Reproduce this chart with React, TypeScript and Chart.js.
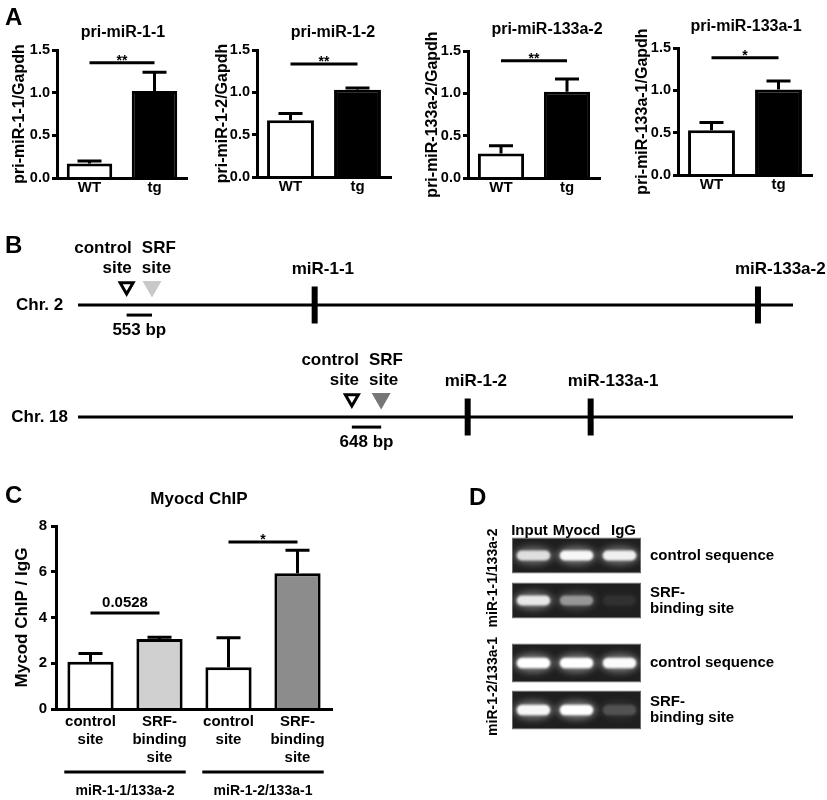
import React, { useEffect, useRef } from 'react';
import { Chart, registerables } from 'chart.js';

Chart.register(...registerables);

const FONT = '"Liberation Sans", Arial, Helvetica, sans-serif';
Chart.defaults.font.family = FONT;
Chart.defaults.font.weight = 'bold' as any;
Chart.defaults.color = '#000';

// ---------------- Panel A data ----------------
const genotypes = ['WT', 'tg'];
const titlesA = ['pri-miR-1-1', 'pri-miR-1-2', 'pri-miR-133a-2', 'pri-miR-133a-1'];
const yTitlesA = ['pri-miR-1-1/Gapdh', 'pri-miR-1-2/Gapdh', 'pri-miR-133a-2/Gapdh', 'pri-miR-133a-1/Gapdh'];
const meanA1 = [0.17, 1.02];
const semA1 = [0.03, 0.22];
const meanA2 = [0.67, 1.03];
const semA2 = [0.08, 0.02];
const meanA3 = [0.29, 1.02];
const semA3 = [0.09, 0.15];
const meanA4 = [0.53, 1.01];
const semA4 = [0.09, 0.1];
const starsA = ['**', '**', '**', '*'];
const starLevelA = [1.35, 1.335, 1.385, 1.385];
const yTicksA = [0, 0.5, 1.0, 1.5];

// ---------------- Panel B data ----------------
const chromosomes = ['Chr. 2', 'Chr. 18'];
const chrExtent = [0, 100];
const controlPos = [6.8, 38.3];
const srfPos = [10.35, 42.4];
const ampliconSize = ['553 bp', '648 bp'];
const siteLabelsLeft = ['control', 'site'];
const siteLabelsRight = ['SRF', 'site'];
const mirNames = [['miR-1-1', 'miR-133a-2'], ['miR-1-2', 'miR-133a-1']];
const mirPos = [[33.1, 95.1], [54.5, 71.7]];

// ---------------- Panel C data ----------------
const chipSites = [['control', 'site'], ['SRF-', 'binding', 'site'], ['control', 'site'], ['SRF-', 'binding', 'site']];
const chipMean = [2.07, 3.06, 1.83, 5.93];
const chipSem = [0.36, 0.08, 1.28, 1.01];
const chipLoci = ['miR-1-1/133a-2', 'miR-1-2/133a-1'];
const chipTicks = [0, 2, 4, 6, 8];
const chipPLabels = ['0.0528', '*'];
const chipPLevels = [4.2, 7.3];

// ---------------- Panel D data ----------------
const lanes = ['Input', 'Myocd', 'IgG'];
const gelRows = [['control sequence'], ['SRF-', 'binding site']];
const gelLoci = ['miR-1-1/133a-2', 'miR-1-2/133a-1'];
const bandsGel1 = [[0.8, 0.95, 0.9], [0.85, 0.45, 0.06]];
const bandsGel2 = [[1.0, 1.0, 0.97], [0.95, 1.0, 0.18]];

// ---------------- plugins ----------------
const errorBars = (sems: number[], capW = 24) => ({
  id: 'errorBars',
  afterDatasetsDraw(chart: any) {
    const meta = chart.getDatasetMeta(0);
    const ys = chart.scales.y;
    const vals = chart.data.datasets[0].data as number[];
    const ctx = chart.ctx;
    ctx.save();
    ctx.strokeStyle = '#000';
    ctx.lineWidth = 3;
    meta.data.forEach((el: any, i: number) => {
      const yb = ys.getPixelForValue(vals[i]);
      const yt = ys.getPixelForValue(vals[i] + sems[i]);
      ctx.beginPath();
      ctx.moveTo(el.x, yb);
      ctx.lineTo(el.x, yt);
      ctx.moveTo(el.x - capW / 2, yt);
      ctx.lineTo(el.x + capW / 2, yt);
      ctx.stroke();
    });
    ctx.restore();
  },
});

type Sig = { from: number; to: number; level: number; label: string; size: number; lift: number };
const sigBars = (items: Sig[]) => ({
  id: 'sigBars',
  afterDatasetsDraw(chart: any) {
    const xs = chart.scales.x;
    const ys = chart.scales.y;
    const ctx = chart.ctx;
    ctx.save();
    ctx.strokeStyle = '#000';
    ctx.fillStyle = '#000';
    ctx.lineWidth = 3;
    items.forEach((s) => {
      const x1 = xs.getPixelForValue(s.from);
      const x2 = xs.getPixelForValue(s.to);
      const y = ys.getPixelForValue(s.level);
      ctx.beginPath();
      ctx.moveTo(x1, y);
      ctx.lineTo(x2, y);
      ctx.stroke();
      ctx.font = `bold ${s.size}px ${FONT}`;
      ctx.textAlign = 'center';
      ctx.textBaseline = 'alphabetic';
      ctx.fillText(s.label, (x1 + x2) / 2, y + s.lift);
    });
    ctx.restore();
  },
});

// title centred over the plot area, nudged by dx
const plotTitle = (text: string, size: number, dx: number, y: number) => ({
  id: 'plotTitle',
  afterDraw(chart: any) {
    const ctx = chart.ctx;
    const ca = chart.chartArea;
    ctx.save();
    ctx.fillStyle = '#000';
    ctx.font = `bold ${size}px ${FONT}`;
    ctx.textAlign = 'center';
    ctx.textBaseline = 'middle';
    ctx.fillText(text, (ca.left + ca.right) / 2 + dx, y);
    ctx.restore();
  },
});

const groupAxis = (groups: string[], per: number) => ({
  id: 'groupAxis',
  afterDraw(chart: any) {
    const xs = chart.scales.x;
    const ctx = chart.ctx;
    const b = chart.chartArea.bottom;
    const step = xs.getPixelForValue(1) - xs.getPixelForValue(0);
    ctx.save();
    ctx.strokeStyle = '#000';
    ctx.fillStyle = '#000';
    ctx.lineWidth = 3;
    ctx.font = `bold 14px ${FONT}`;
    ctx.textAlign = 'center';
    ctx.textBaseline = 'alphabetic';
    groups.forEach((g, gi) => {
      const x1 = xs.getPixelForValue(gi * per) - step * 0.38;
      const x2 = xs.getPixelForValue(gi * per + per - 1) + step * 0.38;
      ctx.beginPath();
      ctx.moveTo(x1, b + 63);
      ctx.lineTo(x2, b + 63);
      ctx.stroke();
      ctx.fillText(g, (x1 + x2) / 2, b + 86);
    });
    ctx.restore();
  },
});

const geneLabels = {
  id: 'geneLabels',
  afterDraw(chart: any) {
    const xs = chart.scales.x;
    const ys = chart.scales.y;
    const ctx = chart.ctx;
    ctx.save();
    ctx.fillStyle = '#000';
    ctx.font = `bold 17px ${FONT}`;
    ctx.textBaseline = 'alphabetic';
    chromosomes.forEach((_, i) => {
      const yRow = ys.getPixelForValue(i + 1);
      const xc = xs.getPixelForValue(controlPos[i]);
      const xr = xs.getPixelForValue(srfPos[i]);
      const mid = (xc + xr) / 2;
      ctx.textAlign = 'right';
      ctx.fillText(siteLabelsLeft[0], mid - 7.5, yRow - 52);
      ctx.fillText(siteLabelsLeft[1], mid - 7.5, yRow - 32);
      ctx.textAlign = 'left';
      ctx.fillText(siteLabelsRight[0], mid + 2.5, yRow - 52);
      ctx.fillText(siteLabelsRight[1], mid + 2.5, yRow - 32);
      ctx.textAlign = 'center';
      ctx.fillText(ampliconSize[i], mid, yRow + 29.5);
      ctx.textAlign = 'left';
      mirNames[i].forEach((n, j) => {
        ctx.fillText(n, xs.getPixelForValue(mirPos[i][j]) - 23, yRow - 31);
      });
    });
    ctx.restore();
  },
};

const gelBands = (bands: number[][]) => ({
  id: 'gelBands',
  afterDatasetsDraw(chart: any) {
    const xs = chart.scales.x;
    const ys = chart.scales.y;
    const ctx = chart.ctx;
    const laneW = xs.getPixelForValue(1) - xs.getPixelForValue(0);
    const rowH = ys.getPixelForValue(1) - ys.getPixelForValue(0);
    const bars = chart.getDatasetMeta(0).data;
    bands.forEach((row, r) => {
      const bar = bars[r] as any;
      const stripTop = bar.y - bar.height / 2;
      ctx.save();
      ctx.beginPath();
      ctx.rect(bar.base, stripTop, bar.x - bar.base, bar.height);
      ctx.clip();
      row.forEach((I, l) => {
        const x = xs.getPixelForValue(l);
        const y = ys.getPixelForValue(r);
        const w = laneW * 0.78;
        const h = rowH * 0.22;
        (ctx as any).filter = 'blur(3px)';
        ctx.fillStyle = `rgba(210,210,210,${I * 0.45})`;
        ctx.beginPath();
        ctx.ellipse(x, y, w * 0.6, h * 0.95, 0, 0, Math.PI * 2);
        ctx.fill();
        (ctx as any).filter = 'blur(1.2px)';
        ctx.fillStyle = `rgba(255,255,255,${I})`;
        ctx.beginPath();
        (ctx as any).roundRect(x - w / 2, y - h / 2, w, h, h / 2);
        ctx.fill();
      });
      ctx.restore();
    });
  },
});

// lane names written just above the first gel strip
const laneLabels = (show: boolean) => ({
  id: 'laneLabels',
  afterDraw(chart: any) {
    if (!show) return;
    const xs = chart.scales.x;
    const ctx = chart.ctx;
    const top = chart.chartArea.top;
    ctx.save();
    ctx.fillStyle = '#000';
    ctx.font = `bold 15px ${FONT}`;
    ctx.textAlign = 'center';
    ctx.textBaseline = 'alphabetic';
    lanes.forEach((n, l) => {
      ctx.fillText(n, xs.getPixelForValue(l) + (l - 1) * 4, top + 1.5);
    });
    ctx.restore();
  },
});

// ---------------- configs ----------------
type AGeo = { left: number; axisX: number; plotRight: number; areaTop: number; areaBottom: number; titleX: number; titleY: number; yTitleX: number };
const A_GEO: AGeo[] = [
  { left: 0, axisX: 57, plotRight: 187, areaTop: 50, areaBottom: 178, titleX: 123, titleY: 33, yTitleX: 20 },
  { left: 205, axisX: 257, plotRight: 391, areaTop: 50, areaBottom: 177, titleX: 333, titleY: 33, yTitleX: 223 },
  { left: 415, axisX: 468, plotRight: 600, areaTop: 51, areaBottom: 178, titleX: 547, titleY: 30, yTitleX: 433 },
  { left: 625, axisX: 678, plotRight: 812, areaTop: 48, areaBottom: 175, titleX: 746, titleY: 27, yTitleX: 643 },
];
const A_MEANS = [meanA1, meanA2, meanA3, meanA4];
const A_SEMS = [semA1, semA2, semA3, semA4];
const aWidth = (g: AGeo) => Math.max(g.plotRight + 5, g.titleX + 66) - g.left;
const aHeight = (g: AGeo) => g.areaBottom + 26;

function aConfig(i: number): any {
  const g = A_GEO[i];
  const W = aWidth(g);
  const H = aHeight(g);
  return {
    type: 'bar',
    data: {
      labels: genotypes,
      datasets: [
        {
          data: A_MEANS[i],
          backgroundColor: ['#ffffff', '#000000'],
          borderColor: '#000',
          borderWidth: 3,
          barPercentage: 0.7,
          categoryPercentage: 1,
        },
      ],
    },
    options: {
      responsive: false,
      animation: false,
      layout: { padding: { left: 0, top: g.areaTop, right: g.left + W - g.plotRight, bottom: 0 } },
      plugins: { legend: { display: false }, tooltip: { enabled: false }, title: { display: false } },
      scales: {
        x: {
          grid: { display: false, drawTicks: false },
          border: { display: true, color: '#000', width: 3, z: 1 },
          ticks: { color: '#000', font: { size: 15, weight: 'bold' }, padding: 1 },
          afterFit: (s: any) => {
            s.height = H - g.areaBottom;
          },
        },
        y: {
          min: 0,
          max: 1.5,
          afterBuildTicks: (s: any) => {
            s.ticks = yTicksA.map((v) => ({ value: v }));
          },
          ticks: {
            color: '#000',
            font: { size: 14.5, weight: 'bold' },
            padding: 2,
            callback: (v: any) => Number(v).toFixed(1),
          },
          grid: { display: true, drawOnChartArea: false, drawTicks: true, tickLength: 5, tickWidth: 3, tickColor: '#000' },
          border: { display: true, color: '#000', width: 3 },
          title: {
            display: true,
            text: yTitlesA[i],
            color: '#000',
            font: { size: 16, weight: 'bold' },
            padding: { top: g.yTitleX - g.left - 9.6, bottom: 0 },
          },
          afterFit: (s: any) => {
            s.width = g.axisX - g.left;
          },
        },
      },
    },
    plugins: [
      errorBars(A_SEMS[i]),
      sigBars([{ from: 0, to: 1, level: starLevelA[i], label: starsA[i], size: 14, lift: 2 }]),
      plotTitle(titlesA[i], 16, g.titleX - (g.axisX + g.plotRight) / 2, g.titleY),
    ],
  };
}

const C_GEO = { left: 0, top: 480, W: 345, H: 320, axisX: 56, plotRight: 332, areaTop: 526, areaBottom: 709, titleX: 199, titleY: 499, yTitleX: 22 };

function cConfig(): any {
  const g = C_GEO;
  return {
    type: 'bar',
    data: {
      labels: chipSites,
      datasets: [
        {
          data: chipMean,
          backgroundColor: ['#ffffff', '#d0d0d0', '#ffffff', '#8c8c8c'],
          borderColor: '#000',
          borderWidth: 3,
          barPercentage: 0.67,
          categoryPercentage: 1,
        },
      ],
    },
    options: {
      responsive: false,
      animation: false,
      layout: { padding: { left: 0, top: g.areaTop - g.top, right: g.left + g.W - g.plotRight, bottom: 0 } },
      plugins: { legend: { display: false }, tooltip: { enabled: false }, title: { display: false } },
      scales: {
        x: {
          grid: { display: false, drawTicks: false },
          border: { display: true, color: '#000', width: 3, z: 1 },
          ticks: { color: '#000', font: { size: 15, weight: 'bold' }, padding: 4 },
          afterFit: (s: any) => {
            s.height = g.top + g.H - g.areaBottom;
          },
        },
        y: {
          min: 0,
          max: 8,
          afterBuildTicks: (s: any) => {
            s.ticks = chipTicks.map((v) => ({ value: v }));
          },
          ticks: { color: '#000', font: { size: 15, weight: 'bold' }, padding: 4 },
          grid: { display: true, drawOnChartArea: false, drawTicks: true, tickLength: 5, tickWidth: 3, tickColor: '#000' },
          border: { display: true, color: '#000', width: 3 },
          title: {
            display: true,
            text: 'Mycod ChIP / IgG',
            color: '#000',
            font: { size: 17, weight: 'bold' },
            padding: { top: g.yTitleX - g.left - 10.2, bottom: 0 },
          },
          afterFit: (s: any) => {
            s.width = g.axisX - g.left;
          },
        },
      },
    },
    plugins: [
      errorBars(chipSem),
      sigBars([
        { from: 0, to: 1, level: chipPLevels[0], label: chipPLabels[0], size: 15, lift: -6 },
        { from: 2, to: 3, level: chipPLevels[1], label: chipPLabels[1], size: 14, lift: 2 },
      ]),
      groupAxis(chipLoci, 2),
      plotTitle('Myocd ChIP', 17, g.titleX - (g.axisX + g.plotRight) / 2, g.titleY - g.top),
    ],
  };
}

const B_GEO = { left: 0, top: 200, W: 827, H: 300, padTop: 49, padBottom: 27, yAxisW: 78, padRight: 34 };
const SITE_OFFSET = 0.165;
const BAR_OFFSET = 0.09;

function bConfig(): any {
  const g = B_GEO;
  const srfColors = ['#c8c8c8', '#767676'];
  const datasets: any[] = [];
  chromosomes.forEach((_, i) => {
    const row = i + 1;
    datasets.push({
      data: chrExtent.map((x) => ({ x, y: row })),
      showLine: true,
      borderColor: '#000',
      borderWidth: 3,
      pointRadius: 0,
    });
    datasets.push({
      data: [controlPos[i], srfPos[i]].map((x) => ({ x, y: row + BAR_OFFSET })),
      showLine: true,
      borderColor: '#000',
      borderWidth: 3,
      pointRadius: 0,
    });
    datasets.push({
      data: mirPos[i].map((x) => ({ x, y: row })),
      pointStyle: 'line',
      pointRotation: 90,
      pointRadius: 18.5,
      pointBorderWidth: 6,
      pointBorderColor: '#000',
      pointBackgroundColor: '#000',
    });
    datasets.push({
      data: [{ x: controlPos[i], y: row - SITE_OFFSET }],
      pointStyle: 'triangle',
      pointRotation: 180,
      pointRadius: 7.5,
      pointBackgroundColor: '#fff',
      pointBorderColor: '#000',
      pointBorderWidth: 3,
    });
    datasets.push({
      data: [{ x: srfPos[i], y: row - SITE_OFFSET }],
      pointStyle: 'triangle',
      pointRotation: 180,
      pointRadius: 11,
      pointBackgroundColor: srfColors[i],
      pointBorderColor: srfColors[i],
      pointBorderWidth: 0,
    });
  });
  return {
    type: 'scatter',
    data: { datasets },
    options: {
      responsive: false,
      animation: false,
      layout: { padding: { left: 0, top: g.padTop, right: g.padRight, bottom: g.padBottom } },
      plugins: { legend: { display: false }, tooltip: { enabled: false } },
      scales: {
        x: { type: 'linear', min: chrExtent[0], max: chrExtent[1], display: false },
        y: {
          type: 'linear',
          reverse: true,
          min: 0.5,
          max: 2.5,
          afterBuildTicks: (s: any) => {
            s.ticks = chromosomes.map((_, i) => ({ value: i + 1 }));
          },
          ticks: {
            color: '#000',
            font: { size: 17, weight: 'bold' },
            padding: 10,
            crossAlign: 'center',
            callback: (v: any) => chromosomes[Math.round(Number(v)) - 1] ?? '',
          },
          grid: { display: false, drawTicks: false },
          border: { display: false },
          afterFit: (s: any) => {
            s.width = g.yAxisW;
          },
        },
      },
    },
    plugins: [geneLabels],
  };
}

type DGeo = { top: number; H: number; padTop: number; padBottom: number; bp: number };
const D_GEO: DGeo[] = [
  { top: 490, H: 165, padTop: 43, padBottom: 32, bp: 0.8 },
  { top: 605, H: 160, padTop: 34.5, padBottom: 31.5, bp: 0.83 },
];
const D_LEFT = 460;
const D_W = 367;

function dConfig(i: number): any {
  const g = D_GEO[i];
  const bands = i === 0 ? bandsGel1 : bandsGel2;
  return {
    type: 'bar',
    data: {
      labels: gelRows,
      datasets: [
        {
          data: gelRows.map(() => [-0.5, lanes.length - 0.5]),
          backgroundColor: '#1f1f1f',
          borderColor: '#6a6a6a',
          borderWidth: 1,
          borderSkipped: false,
          barPercentage: g.bp,
          categoryPercentage: 1,
        },
      ],
    },
    options: {
      indexAxis: 'y',
      responsive: false,
      animation: false,
      layout: { padding: { left: 0, right: 0, top: g.padTop, bottom: g.padBottom } },
      plugins: { legend: { display: false }, tooltip: { enabled: false } },
      scales: {
        x: {
          type: 'linear',
          display: false,
          min: -0.5,
          max: lanes.length - 0.5,
        },
        y: {
          type: 'category',
          position: 'right',
          ticks: { color: '#000', font: { size: 15, weight: 'bold', lineHeight: 1.07 }, padding: 9 },
          grid: { display: false, drawTicks: false },
          border: { display: false },
          afterFit: (s: any) => {
            s.width = 827 - 641;
          },
        },
        yl: {
          type: 'category',
          position: 'left',
          ticks: { display: false },
          grid: { display: false, drawTicks: false },
          border: { display: false },
          title: {
            display: true,
            text: gelLoci[i],
            color: '#000',
            font: { size: 14, weight: 'bold' },
            padding: { top: 33 - 8.4, bottom: 0 },
          },
          afterFit: (s: any) => {
            s.width = 512 - D_LEFT;
          },
        },
      },
    },
    plugins: [gelBands(bands), laneLabels(i === 0)],
  };
}

// ---------------- components ----------------
function ChartBox({ make, left, top, width, height }: { make: () => any; left: number; top: number; width: number; height: number }) {
  const ref = useRef<HTMLCanvasElement>(null);
  useEffect(() => {
    const chart = new Chart(ref.current as HTMLCanvasElement, make());
    return () => chart.destroy();
  }, []);
  return (
    <canvas
      ref={ref}
      width={width}
      height={height}
      style={{ position: 'absolute', left, top, width, height }}
    />
  );
}

const letterStyle = (left: number, top: number): React.CSSProperties => ({
  position: 'absolute',
  left,
  top,
  fontFamily: FONT,
  fontWeight: 'bold',
  fontSize: 24,
  lineHeight: '24px',
  color: '#000',
});

export default function App() {
  return (
    <div
      style={{
        position: 'absolute',
        left: 0,
        top: 0,
        width: 827,
        height: 800,
        overflow: 'hidden',
        background: '#fff',
      }}
    >
      <ChartBox make={bConfig} left={B_GEO.left} top={B_GEO.top} width={B_GEO.W} height={B_GEO.H} />
      {A_GEO.map((g, i) => (
        <ChartBox key={i} make={() => aConfig(i)} left={g.left} top={0} width={aWidth(g)} height={aHeight(g)} />
      ))}
      <ChartBox make={cConfig} left={C_GEO.left} top={C_GEO.top} width={C_GEO.W} height={C_GEO.H} />
      {D_GEO.map((g, i) => (
        <ChartBox key={'d' + i} make={() => dConfig(i)} left={D_LEFT} top={g.top} width={D_W} height={g.H} />
      ))}
      <div style={letterStyle(5, 5)}>A</div>
      <div style={letterStyle(5, 233)}>B</div>
      <div style={letterStyle(5, 483)}>C</div>
      <div style={letterStyle(469, 485)}>D</div>
    </div>
  );
}
